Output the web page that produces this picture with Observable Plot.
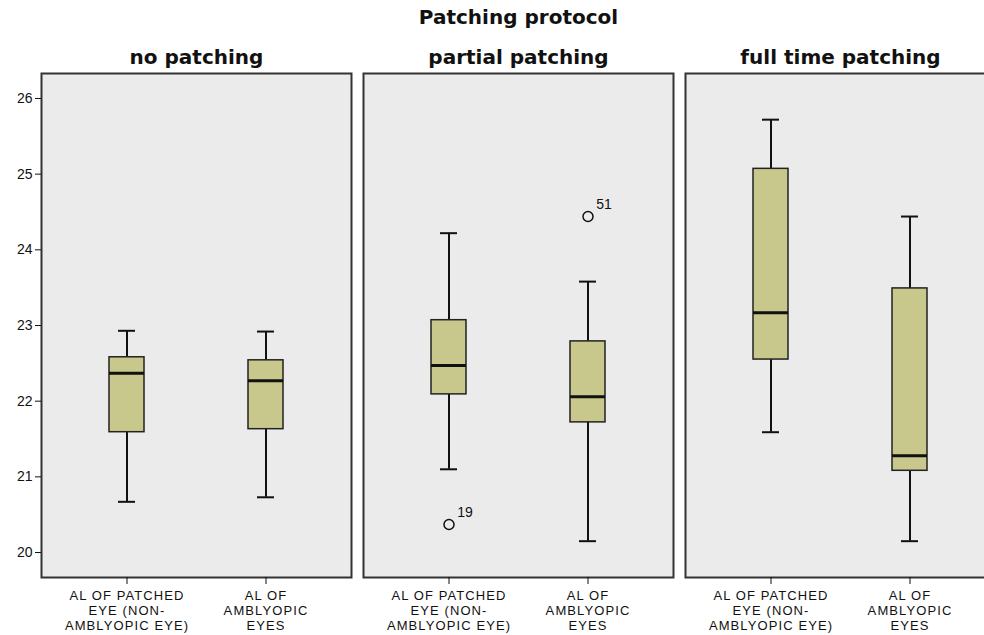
<!DOCTYPE html>
<html>
<head>
<meta charset="utf-8">
<script src="https://cdn.jsdelivr.net/npm/d3@7"></script>
<script src="https://cdn.jsdelivr.net/npm/@observablehq/plot@0.6"></script>
<style>
  html, body { margin: 0; padding: 0; background: #fff; overflow: hidden; }
  #wrap { width: 996px; position: relative; }
  #title { height: 35px; line-height: 35px; padding-left: 41px; text-align: center;
           font-family: "DejaVu Sans", sans-serif; font-weight: bold; font-size: 20px; color: #111; }
  svg { display: block; }
  g[aria-label="x-axis tick label"] text { letter-spacing: 1.1px; }
</style>
</head>
<body>
<div id="wrap">
  <div id="title">Patching protocol</div>
  <div id="chart"></div>
</div>
<script>
// ---- data ----
const protocols = ["no patching", "partial patching", "full time patching"];
const eyeGroups = ["patched", "amblyopic"];
const eyeLabels = ["AL OF PATCHED\nEYE (NON-\nAMBLYOPIC EYE)", "AL OF\nAMBLYOPIC\nEYES"];

// one entry per protocol × eye group (protocol-major order)
const boxProtocol = ["no patching", "no patching", "partial patching", "partial patching", "full time patching", "full time patching"];
const boxEye = ["patched", "amblyopic", "patched", "amblyopic", "patched", "amblyopic"];
const lowerWhisker = [20.67, 20.73, 21.10, 20.15, 21.59, 20.15];
const q1 = [21.59, 21.63, 22.09, 21.72, 22.55, 21.08];
const median = [22.37, 22.27, 22.47, 22.06, 23.17, 21.28];
const q3 = [22.58, 22.54, 23.07, 22.79, 25.07, 23.49];
const upperWhisker = [22.93, 22.92, 24.22, 23.58, 25.72, 24.44];

const outlierProtocol = ["partial patching", "partial patching"];
const outlierEye = ["patched", "amblyopic"];
const outlierValue = [20.37, 24.44];
const outlierId = ["19", "51"];

const yTicks = [20, 21, 22, 23, 24, 25, 26];

// ---- tables ----
const boxes = boxProtocol.map((p, i) => ({
  protocol: p, eye: boxEye[i], lo: lowerWhisker[i], q1: q1[i], med: median[i], q3: q3[i], hi: upperWhisker[i]
}));
const outliers = outlierProtocol.map((p, i) => ({protocol: p, eye: outlierEye[i], value: outlierValue[i], id: outlierId[i]}));
const labelOf = new Map(eyeGroups.map((e, i) => [e, eyeLabels[i]]));

const boxFill = "#c8c88c";
const ink = "#111";

const chart = Plot.plot({
  width: 996,
  height: 600,
  marginTop: 38,
  marginBottom: 58,
  marginLeft: 41,
  marginRight: 1,
  style: {fontFamily: "'Liberation Sans', Arial, sans-serif", fontSize: "14px", color: ink, background: "#fff"},
  fx: {domain: protocols, paddingInner: 0.0373, paddingOuter: 0, label: null},
  x: {domain: eyeGroups, type: "band", paddingInner: 0.748, paddingOuter: 0.489, label: null},
  y: {domain: [19.67, 26.33], label: null},
  marks: [
    Plot.frame({fill: "#ebebeb", stroke: "none"}),
    Plot.ruleX(boxes, {fx: "protocol", x: "eye", y1: "lo", y2: "q1", stroke: ink, strokeWidth: 2}),
    Plot.ruleX(boxes, {fx: "protocol", x: "eye", y1: "q3", y2: "hi", stroke: ink, strokeWidth: 2}),
    Plot.tickY(boxes, {fx: "protocol", x: "eye", y: "lo", stroke: ink, strokeWidth: 2, insetLeft: 9, insetRight: 9}),
    Plot.tickY(boxes, {fx: "protocol", x: "eye", y: "hi", stroke: ink, strokeWidth: 2, insetLeft: 9, insetRight: 9}),
    Plot.barY(boxes, {fx: "protocol", x: "eye", y1: "q1", y2: "q3", fill: boxFill, stroke: "#222", strokeWidth: 1.5}),
    Plot.tickY(boxes, {fx: "protocol", x: "eye", y: "med", stroke: ink, strokeWidth: 3}),
    Plot.dot(outliers, {fx: "protocol", x: "eye", y: "value", r: 5, stroke: ink, strokeWidth: 1.5, fill: "none"}),
    Plot.text(outliers, {fx: "protocol", x: "eye", y: "value", text: "id", dx: 16, dy: -12, fontSize: 14, fill: ink}),
    Plot.frame({stroke: "#333", strokeWidth: 2}),
    Plot.axisY({ticks: yTicks, tickFormat: d3.format("d"), tickSize: 6, tickPadding: 3, fontSize: 14, stroke: ink, label: null}),
    Plot.axisX({tickSize: 7, tickPadding: 5, fontSize: 13, lineHeight: 1.15, tickFormat: (d) => labelOf.get(d), stroke: ink, label: null}),
    Plot.axisFx({anchor: "top", tickSize: 0, tickPadding: 10, label: null, fontSize: 20, fontWeight: "bold", fontFamily: "'DejaVu Sans', sans-serif"})
  ]
});
document.getElementById("chart").appendChild(chart);
</script>
</body>
</html>
